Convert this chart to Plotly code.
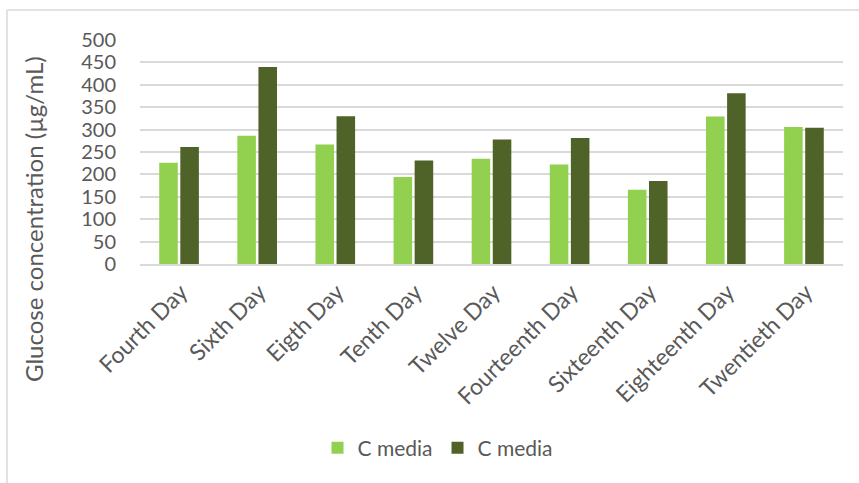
import plotly.graph_objects as go

days = ["Fourth Day", "Sixth Day", "Eigth Day", "Tenth Day", "Twelve Day",
        "Fourteenth Day", "Sixteenth Day", "Eighteenth Day", "Twentieth Day"]
series_a = [226, 286, 267, 194, 235, 222, 166, 329, 306]
series_b = [261, 440, 330, 231, 278, 281, 185, 381, 304]
series_names = ["C media", "C media"]
y_ticks = [0, 50, 100, 150, 200, 250, 300, 350, 400, 450, 500]

LIGHT = "#92d050"
DARK = "#4f6228"
TEXT = "#595959"
GRID = "#d9d9d9"
FONT = "Lato"

W, H = 859, 483
L, R, T, B = 140, 16, 40, 219
pw, ph = W - L - R, H - T - B


def px_x(p):
    return (p - L) / pw


def px_y(p):
    return (H - B - p) / ph


fig = go.Figure()
fig.add_trace(go.Bar(x=days, y=series_a, name=series_names[0],
                     marker=dict(color=LIGHT, line=dict(width=0))))
fig.add_trace(go.Bar(x=days, y=series_b, name=series_names[1],
                     marker=dict(color=DARK, line=dict(width=0))))

fig.update_layout(
    width=W, height=H,
    margin=dict(l=L, r=R, t=T, b=B, pad=0),
    paper_bgcolor="white", plot_bgcolor="white",
    barmode="group", bargap=0.46, bargroupgap=0.12,
    font=dict(family=FONT, color=TEXT, size=20),
    showlegend=True,
    legend=dict(orientation="h", x=px_x(438), y=px_y(448),
                xanchor="center", yanchor="middle",
                font=dict(size=21, color=TEXT), itemwidth=30,
                traceorder="normal", bgcolor="rgba(0,0,0,0)"),
    xaxis=dict(showgrid=False, tickangle=-45, ticks="",
               tickfont=dict(size=23, color=TEXT),
               ticklabelstandoff=4, ticklabelshift=2,
               showline=True, linecolor=GRID, linewidth=1.5),
    yaxis=dict(range=[0, 500], tickvals=y_ticks, ticks="",
               tickfont=dict(size=20, color=TEXT),
               showgrid=True, gridcolor=GRID, gridwidth=1.5,
               zeroline=False, showline=False, ticklabelstandoff=23),
    annotations=[dict(text="Glucose concentration (µg/mL)", textangle=-90,
                      xref="paper", yref="paper", x=px_x(33), y=px_y(219),
                      xanchor="center", yanchor="middle", showarrow=False,
                      font=dict(size=24, color=TEXT, family=FONT))],
    shapes=[
        dict(type="line", xref="paper", yref="paper",
             x0=px_x(7), x1=px_x(W + 5), y0=px_y(10), y1=px_y(10),
             line=dict(color=GRID, width=1.5)),
        dict(type="line", xref="paper", yref="paper",
             x0=px_x(7), x1=px_x(7), y0=px_y(10), y1=px_y(H + 5),
             line=dict(color=GRID, width=1.5)),
    ],
)

fig.write_html("out.html")
